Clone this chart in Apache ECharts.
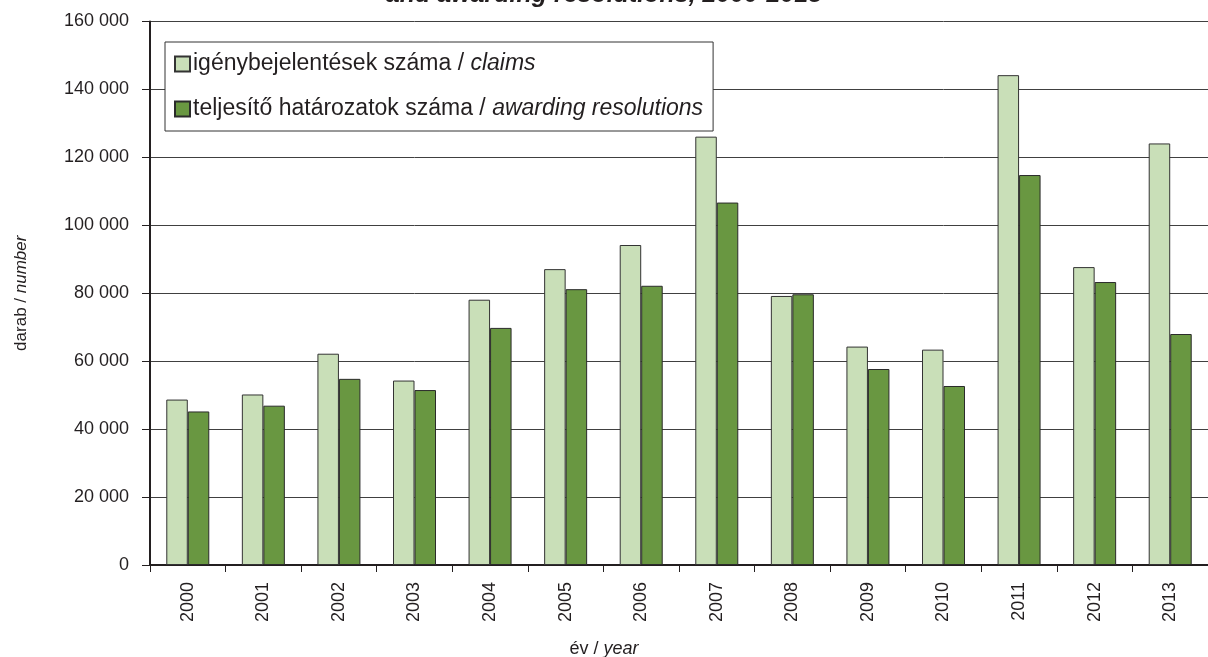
<!DOCTYPE html>
<html>
<head>
<meta charset="utf-8">
<script src="https://cdn.jsdelivr.net/npm/echarts@6/dist/echarts.min.js"></script>
<style>
  html, body { margin: 0; padding: 0; background: #fff; }
  #chart { width: 1208px; height: 657px; }
</style>
</head>
<body>
<div id="chart"></div>
<script>
// évek / years
const years = ['2000', '2001', '2002', '2003', '2004', '2005', '2006',
               '2007', '2008', '2009', '2010', '2011', '2012', '2013']
// igénybejelentések száma / claims
const claims = [48700, 50200, 62200, 54300, 78100, 87100, 94200,
                126100, 79200, 64300, 63400, 144200, 87700, 124100]
// teljesítő határozatok száma / awarding resolutions
const awards = [45200, 46900, 54800, 51500, 69800, 81200, 82200,
                106700, 79700, 57700, 52700, 114800, 83300, 68000]
const yTicks = [0, 20000, 40000, 60000, 80000, 100000, 120000, 140000, 160000]

const FONT = '"Liberation Sans", Arial, Helvetica, sans-serif'
const TXT = '#231f20'

let myChart = echarts.init(document.getElementById('chart'))

let option = {
  animation: false,
  textStyle: { fontFamily: FONT },
  title: [
    {
      // cím alsó sora, a felső rész le van vágva
      text: 'and awarding resolutions, 2000-2013',
      left: 'center',
      top: -22,
      textStyle: { fontFamily: FONT, fontSize: 25, fontWeight: 'bold', fontStyle: 'italic', color: TXT }
    },
    {
      text: '{n|év / }{i|year}',
      left: 'center',
      top: 635,
      textStyle: {
        rich: {
          n: { fontFamily: FONT, fontSize: 18, fontWeight: 'normal', color: TXT },
          i: { fontFamily: FONT, fontSize: 18, fontWeight: 'normal', fontStyle: 'italic', color: TXT }
        }
      }
    }
  ],
  legend: {
    orient: 'vertical',
    left: 165,
    top: 42,
    padding: [10, 10, 10, 9],
    itemGap: 21,
    itemWidth: 15,
    itemHeight: 15,
    borderColor: '#333',
    borderWidth: 1,
    backgroundColor: '#fff',
    icon: 'rect',
    selectedMode: false,
    data: ['claims', 'awards'],
    formatter: function (name) {
      if (name === 'claims') return '{n|igénybejelentések száma / }{i|claims}'
      return '{n|teljesítő határozatok száma / }{i|awarding resolutions}'
    },
    textStyle: {
      padding: [0, 0, 0, -2],
      lineHeight: 24,
      rich: {
        n: { fontFamily: FONT, fontSize: 23, lineHeight: 24, color: TXT },
        i: { fontFamily: FONT, fontSize: 23, lineHeight: 24, fontStyle: 'italic', color: TXT }
      }
    }
  },
  grid: {
    left: 150,
    right: -10,
    top: 21.5,
    bottom: 92,
    containLabel: false
  },
  xAxis: {
    type: 'category',
    data: years,
    axisLine: { lineStyle: { color: '#231f20', width: 2 } },
    axisTick: { show: true, length: 7, lineStyle: { color: '#231f20', width: 1 } },
    axisLabel: { rotate: 90, fontSize: 18, color: TXT, margin: 17, fontFamily: FONT }
  },
  yAxis: {
    type: 'value',
    min: yTicks[0],
    max: yTicks[yTicks.length - 1],
    interval: 20000,
    name: '{n|darab / }{i|number}',
    nameLocation: 'middle',
    nameGap: 120,
    nameRotate: 90,
    nameTextStyle: {
      padding: [0, 0, 0, 0],
      rich: {
        n: { fontFamily: FONT, fontSize: 17, color: TXT },
        i: { fontFamily: FONT, fontSize: 17, fontStyle: 'italic', color: TXT }
      }
    },
    axisLine: { show: true, lineStyle: { color: '#231f20', width: 2 } },
    axisTick: { show: true, length: 8, lineStyle: { color: '#231f20', width: 1 } },
    axisLabel: {
      fontSize: 18,
      color: TXT,
      margin: 21,
      fontFamily: FONT,
      formatter: v => String(v).replace(/\B(?=(\d{3})+(?!\d))/g, ' ')
    },
    splitLine: { show: true, lineStyle: { color: '#404040', width: 1 } }
  },
  series: [
    {
      name: 'claims',
      type: 'bar',
      barWidth: 21.5,
      barGap: '0%',
      data: claims,
      itemStyle: { color: '#c9dfb8', borderColor: '#333', borderWidth: 1 }
    },
    {
      name: 'awards',
      type: 'bar',
      barWidth: 21.5,
      barGap: '0%',
      data: awards,
      itemStyle: { color: '#699741', borderColor: '#2b2b2b', borderWidth: 1 }
    }
  ]
}

myChart.setOption(option)
</script>
</body>
</html>
